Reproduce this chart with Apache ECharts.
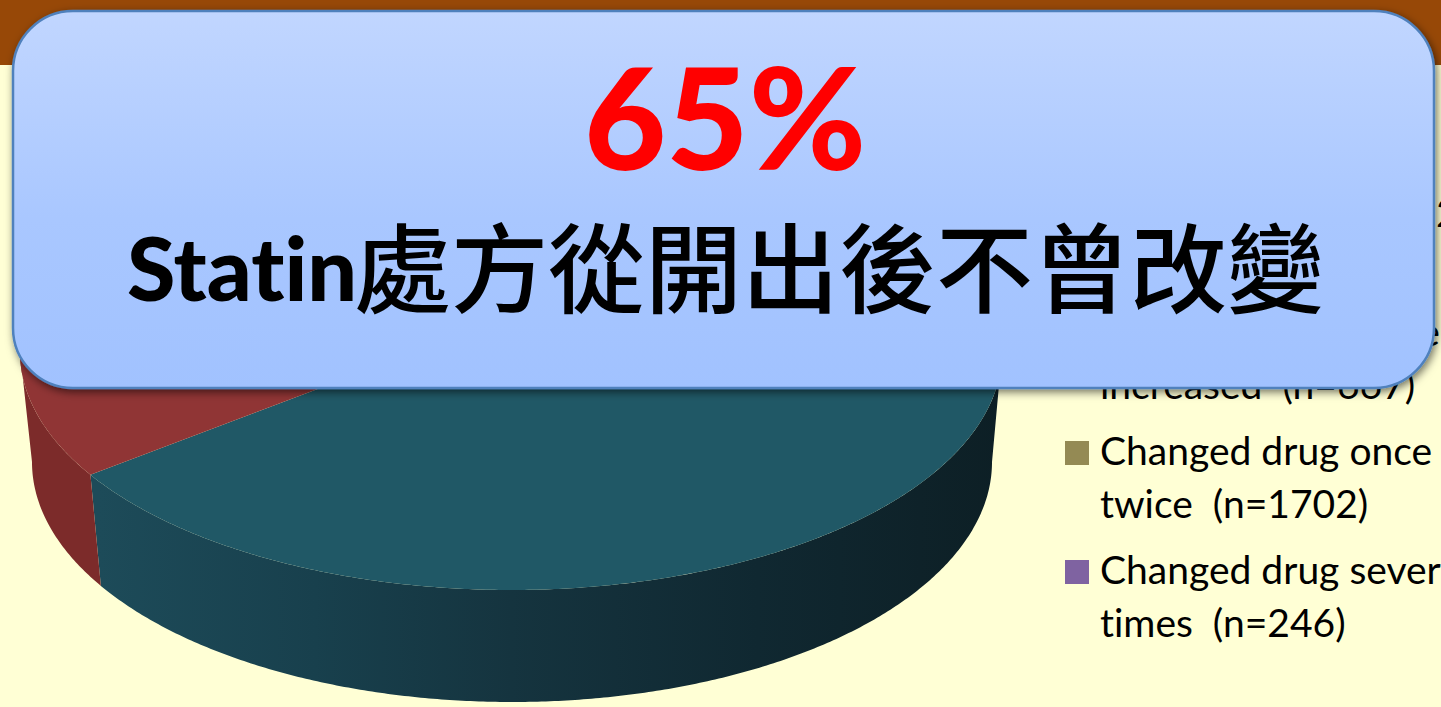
<!DOCTYPE html>
<html>
<head>
<meta charset="utf-8">
<title>Statin prescription changes</title>
<script src="https://cdn.jsdelivr.net/npm/echarts@6/dist/echarts.min.js"></script>
<style>
  html, body { margin: 0; padding: 0; background: #ffffd5; overflow: hidden; }
  #chart { width: 1441px; height: 707px; }
  #chart text { font-variant-ligatures: none !important; }
</style>
</head>
<body>
<div id="chart"></div>
<script>
// Patient counts per prescription pattern
var categories = ['Unchanged', 'Same drug but dose increased', 'Changed drug once or twice', 'Changed drug several times'];
var counts = [4852, 667, 1702, 246];
var legendLabels = [
  'Unchanged  (n=4852)',
  'Same drug but dose\nincreased  (n=667)',
  'Changed drug once or\ntwice  (n=1702)',
  'Changed drug several\ntimes  (n=246)'
];
var sliceColors = ['#205866', '#903535', '#948a54', '#7f63a1'];
var sideColors = ['#1b4654', '#7c2b2a', '#6f6840', '#5f4a79'];
var headline = '65%';
var captionLatin = 'Statin';
var captionCjk = '處方從開出後不曾改變';

// Tilted-disc geometry: top rim, bottom rim, and the projected hub of the top face
var TOP = { cx: 511, cy: 352, rx: 491, ry: 238 };
var BOTTOM = { cx: 512, cy: 462, rx: 480, ry: 240 };
var HUB = [511, 316];
var ROTATION = 5;

var total = counts.reduce(function (a, b) { return a + b; }, 0);

// Each row carries the count plus its start and end angle, clockwise from 12 o'clock
var rows = [];
var running = ROTATION;
counts.forEach(function (n, i) {
  var sweep = n / total * 360;
  rows.push({ name: categories[i], value: [n, running, running + sweep, i] });
  running += sweep;
});

function rim(ring, deg) {
  var t = deg * Math.PI / 180;
  return [ring.cx + ring.rx * Math.sin(t), ring.cy - ring.ry * Math.cos(t)];
}

function arc(ring, from, to) {
  var pts = [];
  var steps = Math.max(2, Math.ceil(Math.abs(to - from) * 2));
  for (var k = 0; k <= steps; k++) {
    pts.push(rim(ring, from + (to - from) * k / steps));
  }
  return pts;
}

function sideFill(index) {
  if (index === 0) {
    return new echarts.graphic.LinearGradient(20, 0, 1003, 0, [
      { offset: 0.08, color: '#1d4b59' },
      { offset: 0.3, color: '#18404d' },
      { offset: 0.5, color: '#15343f' },
      { offset: 0.75, color: '#102831' },
      { offset: 1, color: '#0d1f25' }
    ], true);
  }
  return sideColors[index];
}

function renderSlice(params, api) {
  var start = api.value(1);
  var end = api.value(2);
  var index = api.value(3);
  var children = [];

  // Visible wall: only the part of the rim facing the viewer
  var from = Math.max(start, 90);
  var to = Math.min(end, 270);
  if (to > from) {
    var wall = arc(TOP, from, to).concat(arc(BOTTOM, from, to).reverse());
    children.push({
      type: 'polygon',
      shape: { points: wall },
      style: { fill: sideFill(index), stroke: null }
    });
  }

  // Top face, fanned out from the projected hub
  var face = [HUB].concat(arc(TOP, start, end));
  children.push({
    type: 'polygon',
    shape: { points: face },
    style: { fill: sliceColors[index], stroke: null }
  });

  return { type: 'group', children: children };
}

// Slide backdrop
var elements = [
  { type: 'rect', z: -10, silent: true, shape: { x: 0, y: 0, width: 1441, height: 707 }, style: { fill: '#ffffd5' } },
  { type: 'rect', z: -9, silent: true, shape: { x: 0, y: 0, width: 1441, height: 65 }, style: { fill: '#974807' } }
];

// Legend, with the swatch sitting on the first text line
legendLabels.forEach(function (label, i) {
  var lineCentre = 214 + i * 119;
  elements.push({
    type: 'rect', z: 5, silent: true,
    shape: { x: 1065, y: lineCentre - 11, width: 24, height: 24 },
    style: { fill: sliceColors[i] }
  });
  elements.push({
    type: 'text', z: 5, silent: true,
    x: 1100, y: lineCentre - 29,
    style: {
      text: label,
      fill: '#000000',
      font: '39px Lato, "Noto Sans", sans-serif',
      lineHeight: 53,
      align: 'left',
      verticalAlign: 'top'
    }
  });
});

// Call-out panel over the chart
elements.push({
  type: 'rect', z: 50, silent: true,
  shape: { x: 13, y: 11, width: 1421, height: 377, r: 60 },
  style: {
    fill: new echarts.graphic.LinearGradient(0, 0, 0, 1, [
      { offset: 0, color: '#c1d6ff' },
      { offset: 0.55, color: '#a9c7ff' },
      { offset: 1, color: '#a1c2ff' }
    ]),
    stroke: '#4f81bd',
    lineWidth: 2.5,
    shadowBlur: 9,
    shadowOffsetX: 2,
    shadowOffsetY: 3,
    shadowColor: 'rgba(0,0,0,0.55)'
  }
});
elements.push({
  type: 'text', z: 51, silent: true,
  x: 725, y: 115,
  style: {
    text: headline,
    fill: '#ff0000',
    font: '900 142px Lato, "Noto Sans", sans-serif',
    align: 'center',
    verticalAlign: 'middle'
  }
});
elements.push({
  type: 'text', z: 51, silent: true,
  x: 127, y: 267,
  style: {
    text: captionLatin,
    fill: '#000000',
    font: '900 88px Lato, "Noto Sans", sans-serif',
    align: 'left',
    verticalAlign: 'middle'
  }
});
elements.push({
  type: 'text', z: 51, silent: true,
  x: 354, y: 262,
  style: {
    text: captionCjk,
    fill: '#000000',
    font: '500 97px "Noto Sans CJK TC", sans-serif',
    align: 'left',
    verticalAlign: 'middle'
  }
});

var chart = echarts.init(document.getElementById('chart'), null, { renderer: 'svg' });
chart.setOption({
  animation: false,
  backgroundColor: '#ffffd5',
  graphic: { elements: elements },
  series: [{
    type: 'custom',
    name: 'Prescription pattern',
    coordinateSystem: 'none',
    silent: true,
    renderItem: renderSlice,
    dimensions: ['count', 'start', 'end', 'index'],
    data: rows
  }]
});
</script>
</body>
</html>
